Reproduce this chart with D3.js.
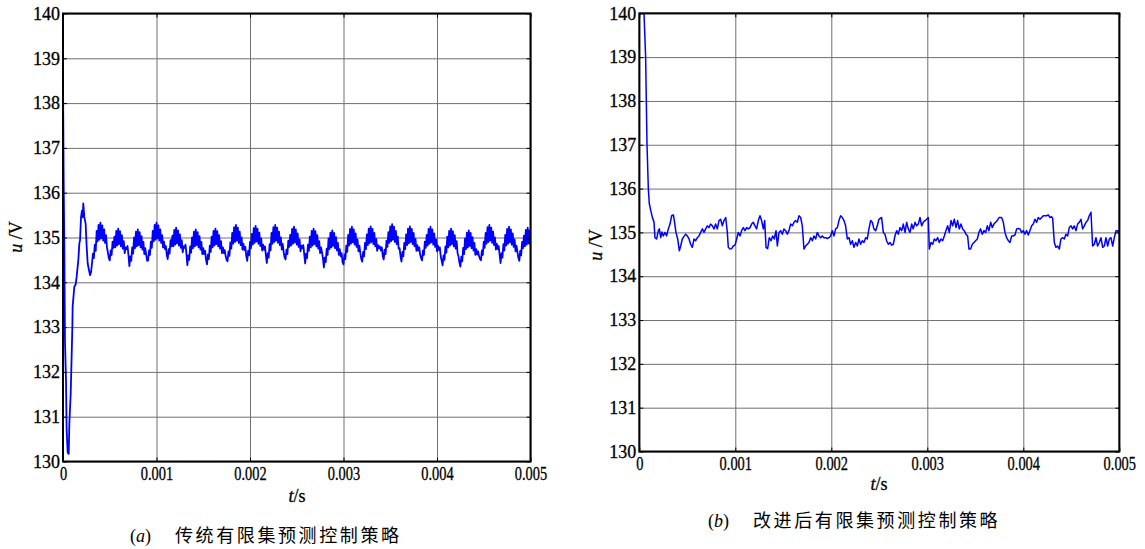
<!DOCTYPE html>
<html>
<head>
<meta charset="utf-8">
<script src="https://cdn.jsdelivr.net/npm/d3@7"></script>
<style>
body { margin: 0; background: #fff; }
</style>
</head>
<body>
<svg width="1145" height="549"></svg>
<script>
var SERIF = '"Liberation Serif", "Times New Roman", Times, serif';

// time in microseconds, voltage in V
var xTicks = [0, 1000, 2000, 3000, 4000, 5000];
var xTickLabels = ['0', '0.001', '0.002', '0.003', '0.004', '0.005'];
var yTicks = [130, 131, 132, 133, 134, 135, 136, 137, 138, 139, 140];

// (a) start-up transient of the traditional strategy
var leftStartTime = [
    0, 7, 14, 21, 32, 39, 50, 61, 68, 82,
    93, 100, 103, 121, 135, 146, 153, 164, 175, 182,
    193, 203, 210, 217, 228, 242, 253, 264, 278, 289,
    300];
var leftStartVolt = [
    138.55, 136.3, 134.87, 132.7, 131.8, 130.7, 130.2, 130.17, 130.85, 131.5,
    132.4, 133.0, 133.45, 133.9, 133.95, 134.12, 134.27, 134.5, 134.87, 134.94,
    135.46, 135.6, 135.45, 135.76, 135.46, 135.31, 134.8, 134.42, 134.27, 134.16,
    134.23];

// (a) steady ripple, sampled every 10 us from 310 us (one row per ripple period)
var rippleStart = 310, rippleStep = 10;
var rippleVolt = [
    134.42,134.64,134.54,134.84,134.70,135.15,134.91,135.28,134.95,135.33,134.98,135.27,134.93,135.18,134.88,135.05,134.78,134.67,134.54,
    134.49,134.71,134.61,134.91,134.77,135.02,134.78,135.15,134.82,135.20,134.85,135.14,134.80,135.05,134.75,134.92,134.65,134.78,134.74,134.81,134.61,
    134.36,134.58,134.48,134.78,134.64,135.00,134.76,135.13,134.80,135.18,134.83,135.12,134.78,135.03,134.73,134.90,134.63,134.76,134.61,134.48,
    134.49,134.71,134.61,134.91,134.77,135.15,134.91,135.28,134.95,135.33,134.98,135.27,134.93,135.18,134.88,135.05,134.78,134.91,134.74,134.81,134.61,
    134.52,134.74,134.64,134.94,134.80,135.04,134.80,135.17,134.84,135.22,134.87,135.16,134.82,135.07,134.77,134.94,134.67,134.80,134.77,134.84,134.64,
    134.38,134.60,134.50,134.80,134.66,135.00,134.76,135.13,134.80,135.18,134.83,135.12,134.78,135.03,134.73,134.90,134.63,134.76,134.63,134.70,134.50,
    134.40,134.62,134.52,134.82,134.68,135.02,134.78,135.15,134.82,135.20,134.85,135.14,134.80,135.05,134.75,134.92,134.65,134.78,134.65,134.72,134.58,134.50,
    134.47,134.69,134.59,134.89,134.75,135.10,134.86,135.23,134.90,135.28,134.93,135.22,134.88,135.13,134.83,135.00,134.73,134.86,134.72,134.79,134.59,
    134.48,134.70,134.60,134.90,134.76,135.08,134.84,135.21,134.88,135.26,134.91,135.20,134.86,135.11,134.81,134.98,134.71,134.84,134.73,134.80,134.60,
    134.43,134.65,134.55,134.85,134.71,135.10,134.86,135.23,134.90,135.28,134.93,135.22,134.88,135.13,134.83,135.00,134.73,134.86,134.68,134.55,
    134.51,134.73,134.63,134.93,134.79,135.06,134.82,135.19,134.86,135.24,134.89,135.18,134.84,135.09,134.79,134.96,134.69,134.82,134.76,134.83,134.63,
    134.42,134.64,134.54,134.84,134.70,135.02,134.78,135.15,134.82,135.20,134.85,135.14,134.80,135.05,134.75,134.92,134.65,134.78,134.67,134.54,
    134.33,134.55,134.45,134.75,134.61,134.98,134.74,135.11,134.78,135.16,134.81,135.10,134.76,135.01,134.71,134.88,134.61,134.74,134.58,134.65,134.45,
    134.40,134.62,134.52,134.82,134.68,135.06,134.82,135.19,134.86,135.24,134.89,135.18,134.84,135.09,134.79,134.96,134.69,134.82,134.65,134.52,
    134.46,134.68,134.58,134.88,134.74,135.07,134.83,135.20,134.87,135.25,134.90,135.19,134.85,135.10,134.80,134.97,134.70,134.83,134.76,134.80,134.71,134.78,134.58,
    134.51,134.73,134.63,134.93,134.79,135.12,134.88,135.25,134.92,135.30,134.95,135.24,134.90,135.15,134.85,135.02,134.75,134.76,134.58,
    134.46,134.68,134.58,134.88,134.74,135.07,134.83,135.20,134.87,135.25,134.90,135.19,134.85,135.10,134.80,134.97,134.70,134.83,134.71,134.78,134.62,134.54,
    134.49,134.71,134.61,134.91,134.77,135.06,134.82,135.19,134.86,135.24,134.89,135.18,134.84,135.09,134.79,134.96,134.69,134.82,134.72,134.78,134.58,134.48,
    134.38,134.60,134.50,134.80,134.66,135.02,134.78,135.15,134.82,135.20,134.85,135.14,134.80,135.05,134.75,134.92,134.65,134.58,134.44,
    134.35,134.57,134.47,134.77,134.63,134.98,134.74,135.11,134.78,135.16,134.81,135.10,134.76,135.01,134.71,134.88,134.61,134.74,134.62,134.69,134.58,134.52,
    134.49,134.71,134.61,134.91,134.77,135.10,134.86,135.23,134.90,135.28,134.93,135.22,134.88,135.13,134.83,135.00,134.73,134.86,134.74,134.81,134.61,
    134.43,134.65,134.55,134.85,134.71,135.06,134.82,135.19,134.86,135.24,134.89,135.18,134.84,135.09,134.79,134.96,134.69,134.82,134.68,134.55,
    134.48,134.70,134.60,134.90,134.76,135.04,134.80,135.17,134.84,135.22,134.87,135.16,134.82];

// (b) improved strategy
var rightTime = [
    30, 49, 66, 80, 94, 104, 118, 139, 153, 163,
    181, 198, 209, 223, 236, 250, 268, 285, 302, 320,
    337, 355, 365, 382, 400, 417, 431, 448, 466, 483,
    500, 518, 535, 552, 570, 587, 604, 622, 639, 657,
    674, 691, 709, 726, 743, 761, 778, 795, 813, 830,
    847, 865, 882, 900, 917, 927, 945, 962, 979, 997,
    1014, 1031, 1049, 1066, 1084, 1101, 1118, 1136, 1153, 1170,
    1188, 1205, 1222, 1240,
    1257, 1274, 1292, 1306, 1320, 1337, 1354, 1372, 1389, 1406,
    1424, 1438, 1455, 1472, 1490, 1507, 1524, 1542, 1559, 1576,
    1594, 1611, 1628, 1646, 1663, 1681, 1698, 1715, 1733, 1750,
    1767, 1785, 1802, 1819, 1837, 1854, 1872, 1889, 1906, 1924,
    1941, 1958, 1976, 1993, 2010, 2028, 2045, 2063, 2080, 2097,
    2115, 2132, 2149, 2167, 2184, 2201, 2219, 2236, 2254, 2271,
    2288, 2306, 2323, 2340, 2358, 2375, 2392, 2410, 2427, 2444,
    2462, 2479, 2496,
    2524, 2542, 2559, 2576, 2594, 2611, 2629, 2646, 2663, 2681,
    2698, 2715, 2733, 2750, 2768, 2785, 2802, 2820, 2837, 2854,
    2872, 2889, 2906, 2924, 2941, 2958, 2976, 2993, 3010, 3021,
    3038, 3056, 3073, 3090, 3108, 3125, 3142, 3160, 3177, 3194,
    3212, 3229, 3247, 3264, 3281, 3299, 3316, 3333, 3351, 3368,
    3385, 3403, 3420, 3434, 3451, 3469, 3486, 3503, 3521, 3538,
    3555, 3573, 3590, 3608, 3625, 3642, 3660, 3677, 3694, 3712,
    3729, 3747,
    3774, 3792, 3809, 3826, 3844, 3861, 3879, 3896, 3913, 3931,
    3948, 3965, 3983, 4000, 4017, 4035, 4052, 4069, 4087, 4104,
    4122, 4139, 4156, 4174, 4191, 4208, 4226, 4243, 4260, 4278,
    4295, 4306, 4323, 4340, 4358, 4375, 4392, 4410, 4427, 4444,
    4462, 4479, 4497, 4514, 4531, 4549, 4566, 4583, 4601, 4618,
    4635, 4653, 4670, 4687, 4705, 4722, 4740, 4757, 4774, 4792,
    4809, 4827, 4844, 4861, 4879, 4896, 4913, 4931, 4948, 4966,
    4983, 5000];
var rightVolt = [
    141.5, 140.0, 139.0, 137.03, 136.0, 135.66, 135.51, 135.32, 135.24, 134.88,
    134.85, 135.04, 135.08, 134.88, 135.01, 134.92, 135.0, 134.92, 135.08, 135.19,
    135.38, 135.40, 135.27, 135.0, 134.85, 134.58, 134.69, 134.85, 134.91, 134.96,
    134.92, 134.85, 134.73, 134.66, 134.85, 134.81, 134.88, 134.92, 135.0, 135.08,
    135.0, 135.08, 135.15, 135.11, 135.19, 135.15, 135.08, 135.19, 135.08, 135.27,
    135.30, 135.15, 135.27, 135.34, 135.0, 134.66, 134.62, 134.63, 134.69, 134.71,
    134.85, 135.0, 134.92, 135.04, 135.11, 135.04, 135.11, 135.08, 135.11, 135.19,
    135.23, 135.15, 135.08, 135.27,
    135.38, 135.27, 135.08, 135.27, 134.66, 134.63, 134.88, 134.81, 134.92, 134.85,
    135.04, 134.69, 135.0, 135.04, 134.96, 135.08, 135.04, 134.96, 135.04, 135.19,
    135.15, 135.23, 135.27, 135.23, 135.38, 135.34, 135.15, 134.62, 134.69, 134.73,
    134.77, 134.88, 134.81, 134.92, 134.85, 135.0, 134.92, 134.88, 134.92, 134.88,
    134.88, 134.86, 134.88, 134.92, 135.04, 134.92, 135.08, 135.11, 135.27, 135.38,
    135.34, 135.27, 135.15, 134.85, 134.88, 134.73, 134.81, 134.66, 134.77, 134.69,
    134.85, 134.73, 134.81, 134.77, 134.88, 134.85, 135.08, 135.27, 135.23, 135.08,
    135.04, 135.15, 135.30,
    135.34, 135.0, 134.96, 134.81, 134.73, 134.77, 134.71, 134.73, 134.92, 135.04,
    134.96, 135.11, 135.04, 135.19, 135.0, 135.23, 135.08, 135.0, 135.19, 135.08,
    135.23, 135.15, 135.19, 135.34, 135.15, 135.23, 135.27, 135.30, 135.34, 134.62,
    134.77, 134.73, 134.85, 134.81, 134.88, 134.77, 134.85, 134.81, 134.92, 135.04,
    135.15, 135.0, 135.27, 135.15, 135.30, 135.11, 135.27, 135.08, 135.19, 135.08,
    135.04, 134.96, 134.92, 134.62, 134.62, 134.73, 134.77, 134.81, 134.85, 135.0,
    135.08, 134.96, 135.04, 135.0, 135.15, 135.04, 135.23, 135.11, 135.19, 135.23,
    135.27, 135.34,
    135.34, 135.23, 135.0, 134.88, 134.81, 134.77, 134.92, 134.92, 134.94, 135.08,
    135.09, 135.08, 135.0, 135.04, 134.96, 135.04, 134.94, 135.04, 135.15, 135.19,
    135.30, 135.23, 135.34, 135.30, 135.34, 135.38, 135.38, 135.38, 135.40, 135.34,
    135.36, 135.32, 134.77, 134.66, 134.69, 134.62, 134.85, 134.88, 134.85, 134.96,
    134.92, 135.11, 135.15, 135.08, 135.15, 135.04, 135.19, 135.23, 135.30, 135.08,
    135.15, 135.23, 135.27, 135.38, 135.46, 134.69, 134.73, 134.88, 134.69, 134.77,
    134.88, 134.66, 134.69, 134.88, 134.69, 134.85, 134.88, 134.69, 134.88, 135.04,
    135.04, 134.96];

var svg = d3.select('svg');
svg.append('rect').attr('width', 1145).attr('height', 549).attr('fill', '#fff');

var leftPoints = leftStartTime.map(function (t, i) { return [t, leftStartVolt[i]]; })
    .concat(rippleVolt.map(function (v, i) { return [rippleStart + i * rippleStep, v]; }));
var rightPoints = rightTime.map(function (t, i) { return [t, rightVolt[i]]; });

// serif text, slightly heavier like the printed figure
function serifText(sel, size) {
    return sel.style('font-family', SERIF).style('font-size', size + 'px')
        .attr('fill', '#000').attr('stroke', '#000').attr('stroke-width', 0.3);
}

function panel(id, box, points, lineWidth) {
    var w = box.x1 - box.x0, h = box.y1 - box.y0;
    var x = d3.scaleLinear().domain([0, 5000]).range([0, w]);
    var y = d3.scaleLinear().domain([130, 140]).range([h, 0]);
    var g = svg.append('g').attr('transform', 'translate(' + box.x0 + ',' + box.y0 + ')');

    // clip rect lives in the panel's own coordinates
    g.append('clipPath').attr('id', id).append('rect').attr('width', w).attr('height', h);

    // grid
    var gx = g.append('g').attr('transform', 'translate(0,' + h + ')')
        .call(d3.axisBottom(x).tickValues(xTicks).tickSize(-h).tickFormat(''));
    var gy = g.append('g').call(d3.axisLeft(y).tickValues(yTicks).tickSize(-w).tickFormat(''));
    [gx, gy].forEach(function (a) {
        a.select('.domain').remove();
        a.selectAll('line').attr('stroke', '#707070').attr('stroke-width', 1);
    });

    // curve
    g.append('path').datum(points)
        .attr('clip-path', 'url(#' + id + ')')
        .attr('fill', 'none').attr('stroke', '#0000ff').attr('stroke-width', lineWidth)
        .attr('stroke-linejoin', 'round')
        .attr('d', d3.line().x(function (d) { return x(d[0]); }).y(function (d) { return y(d[1]); }));

    // inner ticks on four sides + labels
    var ax = g.append('g').attr('transform', 'translate(0,' + h + ')')
        .call(d3.axisBottom(x).tickValues(xTicks).tickSizeInner(-4).tickSizeOuter(0).tickPadding(6)
            .tickFormat(function (d, i) { return xTickLabels[i]; }));
    ax.selectAll('text').attr('transform', 'scale(0.8,1)');
    var ay = g.append('g')
        .call(d3.axisLeft(y).tickValues(yTicks).tickSizeInner(-4).tickSizeOuter(0).tickPadding(3));
    var at = g.append('g').call(d3.axisTop(x).tickValues(xTicks).tickSizeInner(-4).tickSizeOuter(0).tickFormat(''));
    var ar = g.append('g').attr('transform', 'translate(' + w + ',0)')
        .call(d3.axisRight(y).tickValues(yTicks).tickSizeInner(-4).tickSizeOuter(0).tickFormat(''));
    [ax, ay, at, ar].forEach(function (a) {
        a.select('.domain').remove();
        a.attr('font-family', null).attr('font-size', null);
        a.selectAll('line').attr('stroke', '#000').attr('stroke-width', 1);
        serifText(a.selectAll('text'), 18);
    });

    g.append('rect').attr('width', w).attr('height', h)
        .attr('fill', 'none').attr('stroke', '#000').attr('stroke-width', 2);
    return g;
}

panel('clipA', { x0: 63, x1: 530.5, y0: 13.5, y1: 461.5 }, leftPoints, 1.8);
panel('clipB', { x0: 639.3, x1: 1119.3, y0: 13.3, y1: 451.5 }, rightPoints, 1.5);

function axisTitles(cx, ty, yx, yy) {
    var t = serifText(svg.append('text').attr('x', cx).attr('y', ty).attr('text-anchor', 'middle'), 18);
    t.append('tspan').attr('font-style', 'italic').text('t');
    t.append('tspan').text('/s');
    var u = serifText(svg.append('text').attr('transform', 'translate(' + yx + ',' + yy + ') rotate(-90)')
        .attr('text-anchor', 'middle'), 18);
    u.append('tspan').attr('font-style', 'italic').text('u');
    u.append('tspan').text(' /V');
}
axisTitles(297, 502, 22, 237);
axisTitles(879, 490, 602, 245);

function caption(x, y, letter, text) {
    var c = svg.append('text').attr('x', x).attr('y', y)
        .style('font-family', SERIF).style('font-size', '18px');
    c.append('tspan').text('(');
    c.append('tspan').attr('font-style', 'italic').text(letter);
    c.append('tspan').text(')');
    svg.append('text').attr('x', x + 45).attr('y', y)
        .style('font-family', '"Noto Sans CJK SC", sans-serif').style('font-size', '18px')
        .attr('letter-spacing', 2.6).text(text);
}
caption(130, 542, 'a', '传统有限集预测控制策略');
caption(708, 527, 'b', '改进后有限集预测控制策略');
</script>
</body>
</html>
